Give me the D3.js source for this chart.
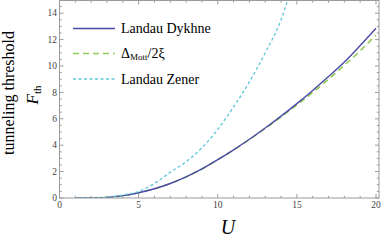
<!DOCTYPE html>
<html><head><meta charset="utf-8">
<script src="https://cdn.jsdelivr.net/npm/d3@7"></script>
<style>body{margin:0;background:#fff}svg{display:block}</style>
</head><body><svg id="c" width="381" height="240" font-family="'Liberation Serif', 'DejaVu Serif', serif"></svg>
<script>
const uDykhne = [1,2,3,4,5,6,7,8,9,10,11,12,13,14,15,16,17,18,19,20];
const fDykhne = [0,0.01,0.05,0.18,0.4,0.7,1.1,1.6,2.2,2.9,3.65,4.45,5.3,6.2,7.15,8.15,9.2,10.3,11.55,12.86];
const uMott = [1,2,3,4,5,6,7,8,9,10,11,12,13,14,15,16,17,18,19,20];
const fMott = [0,0.01,0.05,0.18,0.4,0.7,1.1,1.6,2.2,2.9,3.64,4.43,5.27,6.14,7.05,8.0,9.0,10.05,11.15,12.35];
const uZener = [1,2,3,4,5,6,7,8,9,10,11,12,13,14,14.5];
const fZener = [0,0.01,0.06,0.22,0.5,1.1,1.95,2.75,3.8,5.2,6.9,8.8,11.0,13.5,15.3];
const xTicks = [0,5,10,15,20];
const yTicks = [0,2,4,6,8,10,12,14];
const legendLabels = ["Landau Dykhne","Δ_Mott/2ξ","Landau Zener"];

const FF = "'Liberation Serif', 'DejaVu Serif', serif";
const svg = d3.select("#c");
const x = d3.scaleLinear().domain([0,20]).range([59.5,376]);
const y = d3.scaleLinear().domain([0,15]).range([198,0]);
const L=59.5, R=379, T=0.5, B=198;

svg.append("defs").append("clipPath").attr("id","cp").append("rect")
  .attr("x",L).attr("y",T).attr("width",R-L).attr("height",B-T);

const line = d3.line().x(d=>x(d[0])).y(d=>y(d[1])).curve(d3.curveMonotoneX);
const g = svg.append("g").attr("clip-path","url(#cp)");
g.append("path").datum(d3.zip(uMott,fMott)).attr("d",line).attr("fill","none")
  .attr("stroke","#8fcc55").attr("stroke-width",1.6).attr("stroke-dasharray","6,4");
g.append("path").datum(d3.zip(uDykhne,fDykhne)).attr("d",line).attr("fill","none")
  .attr("stroke","#4a4aa6").attr("stroke-width",1.4);
g.append("path").datum(d3.zip(uZener,fZener)).attr("d",line).attr("fill","none")
  .attr("stroke","#5cc6d8").attr("stroke-width",1.3).attr("stroke-dasharray","3,2.5");

const fc="#9a9a9a";
svg.append("rect").attr("x",L).attr("y",T).attr("width",R-L).attr("height",B-T)
  .attr("fill","none").attr("stroke",fc).attr("stroke-width",1);
d3.range(0,21,1).forEach(v=>{
  const len = xTicks.includes(v)?4:2.2;
  svg.append("line").attr("x1",x(v)).attr("x2",x(v)).attr("y1",B).attr("y2",B-len).attr("stroke",fc);
  svg.append("line").attr("x1",x(v)).attr("x2",x(v)).attr("y1",T).attr("y2",T+len).attr("stroke",fc);
});
d3.range(0,15.01,0.5).forEach(v=>{
  const len = yTicks.includes(v)?4:2.2;
  svg.append("line").attr("y1",y(v)).attr("y2",y(v)).attr("x1",L).attr("x2",L+len).attr("stroke",fc);
  svg.append("line").attr("y1",y(v)).attr("y2",y(v)).attr("x1",R).attr("x2",R-len).attr("stroke",fc);
});
svg.selectAll(".xl").data(xTicks).enter().append("text")
  .attr("x",d=>x(d)).attr("y",207.5).attr("text-anchor","middle").attr("font-family",FF)
  .attr("font-size",9.5).attr("fill","#444").text(d=>d);
svg.selectAll(".yl").data(yTicks).enter().append("text")
  .attr("x",57).attr("y",d=>y(d)+3.2).attr("text-anchor","end").attr("font-family",FF)
  .attr("font-size",9.5).attr("fill","#444").text(d=>d);

svg.append("text").attr("x",228).attr("y",234).attr("text-anchor","middle").attr("font-family",FF)
  .attr("font-size",20).attr("font-style","italic").text("U");
svg.append("text").attr("transform","translate(13.5,93) rotate(-90)").attr("text-anchor","middle")
  .attr("font-family",FF).attr("font-size",16).text("tunneling threshold");
const ft = svg.append("text").attr("transform","translate(38,95) rotate(-90)").attr("text-anchor","middle")
  .attr("font-family",FF).attr("font-size",17);
ft.append("tspan").attr("font-style","italic").text("F");
ft.append("tspan").attr("font-size",11).attr("dy",3).text("th");

const legColors=["#4a4aa6","#8fcc55","#5cc6d8"];
const legDash=[null,"6,4","3,2.5"];
const legW=[1.4,1.6,1.3];
const legY=[28.5,53.5,79];
legendLabels.forEach((lab,i)=>{
  svg.append("line").attr("x1",73).attr("x2",115).attr("y1",legY[i]).attr("y2",legY[i])
    .attr("stroke",legColors[i]).attr("stroke-width",legW[i]).attr("stroke-dasharray",legDash[i]);
  const t = svg.append("text").attr("x",121).attr("y",legY[i]+4.5).attr("font-family",FF).attr("font-size",14);
  if(lab.includes("_")){
    t.append("tspan").text("Δ");
    t.append("tspan").attr("font-size",9).attr("dy",2).text("Mott");
    t.append("tspan").attr("dy",-2).text("/2ξ");
  } else t.text(lab);
});
</script></body></html>
